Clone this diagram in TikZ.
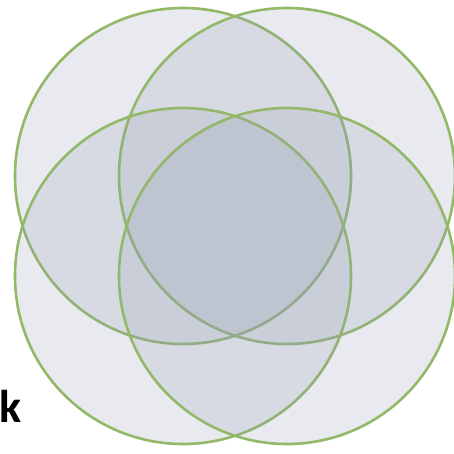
\documentclass[tikz,border=0pt]{standalone}
\usepackage{fontspec}
\newfontfamily\lblfont{Carlito}
\usetikzlibrary{positioning}

\definecolor{ringgreen}{RGB}{146,184,104}
\definecolor{ringfill}{RGB}{150,158,180}

\begin{document}
\begin{tikzpicture}[
  x=1pt,y=-1pt,
  ring/.style={circle,draw=ringgreen,line width=2.6pt,fill=ringfill,
               fill opacity=0.21,draw opacity=1,minimum size=336pt,inner sep=0pt},
  lbl/.style={font=\lblfont\bfseries\fontsize{46}{46}\selectfont,inner sep=0pt,anchor=base west}
]
\useasboundingbox (0,0) rectangle (453,454);

%%%%%%%%%%%%%%%%%%%%%% four overlapping rings %%%%%%%%%%%%%%%%%%%%%%%%%%%%%%
\node[ring] (tl) at (183,176) {};
\node[ring] (tr) at (287,176) {};
\node[ring] (bl) at (183,276) {};
\node[ring] (br) at (287,276) {};

%%%%%%%%%%%%%%%%%%%%%% label %%%%%%%%%%%%%%%%%%%%%%%%%%%%%%%%%%%%%%%%%%%%%%
\node[lbl] (klbl) at (-1,422) {k};
\end{tikzpicture}
\end{document}
